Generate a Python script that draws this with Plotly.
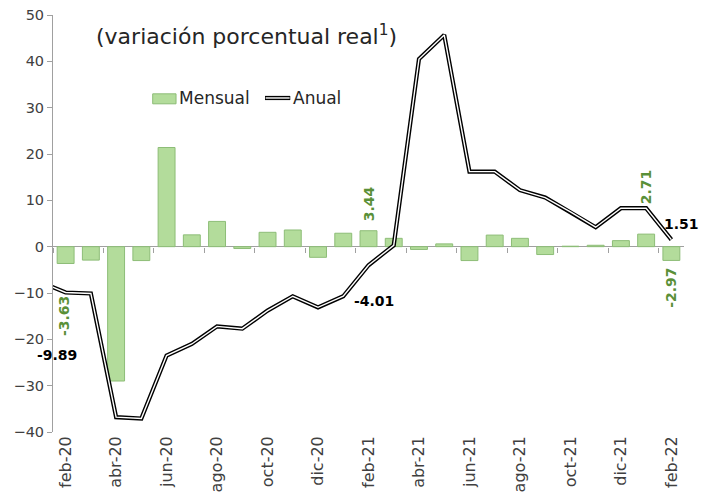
import plotly.graph_objects as go

months = ["ene-20", "feb-20", "mar-20", "abr-20", "may-20", "jun-20", "jul-20", "ago-20",
          "sep-20", "oct-20", "nov-20", "dic-20", "ene-21", "feb-21", "mar-21", "abr-21",
          "may-21", "jun-21", "jul-21", "ago-21", "sep-21", "oct-21", "nov-21", "dic-21",
          "ene-22", "feb-22"]
mensual = [None, -3.63, -2.9, -29.0, -3.0, 21.4, 2.55, 5.45, -0.4, 3.1, 3.6, -2.3, 2.9,
           3.44, 1.8, -0.6, 0.6, -3.0, 2.5, 1.8, -1.7, 0.1, 0.3, 1.3, 2.71, -2.97]
anual = [-7.6, -9.89, -10.1, -36.8, -37.1, -23.5, -21.0, -17.2, -17.7, -13.8, -10.7, -13.1,
         -10.7, -4.01, 0.3, 40.5, 45.7, 16.2, 16.2, 12.2, 10.6, 7.5, 4.2, 8.3, 8.3, 1.51]

title_text = "(variación porcentual real<sup>1</sup>)"
FONT = "DejaVu Sans"
GREEN_TXT = "#5a9038"
AXIS_C = "#a0a0a0"

# numeric positions: feb-20 -> 0 ; ene-20 sits just left of the plot (clipped)
xpos = [i - 1 for i in range(len(months))]
tick_idx = list(range(1, len(months), 2))
tickvals = [xpos[i] for i in tick_idx]
ticktext = [months[i] for i in tick_idx]
boundaries = [v - 0.5 for v in tickvals]

fig = go.Figure()
fig.add_trace(go.Bar(x=xpos, y=mensual, name="Mensual",
                     marker=dict(color="#b3dc9b", line=dict(color="#8dbd77", width=1)),
                     showlegend=False, hoverinfo="skip"))
fig.add_trace(go.Scatter(x=xpos, y=anual, mode="lines", name="Anual",
                         line=dict(color="black", width=4.2), showlegend=False))
fig.add_trace(go.Scatter(x=xpos, y=anual, mode="lines", name="Anual_in",
                         line=dict(color="white", width=1.4), showlegend=False, hoverinfo="skip"))
# helper trace for the tick-mark axis at y=0
fig.add_trace(go.Scatter(x=[tickvals[0]], y=[0], xaxis="x2", showlegend=False,
                         hoverinfo="skip", mode="markers", marker=dict(opacity=0)))

# page body has an 8px default margin, so the figure is sized/offset to compensate
fig.update_layout(
    width=700, height=489,
    margin=dict(l=45, r=24, t=7, b=65),
    paper_bgcolor="white", plot_bgcolor="white",
    bargap=0.33,
    font=dict(family=FONT, color="#404040"),
    xaxis=dict(range=[-0.5, 24.5], tickvals=tickvals, ticktext=ticktext, tickangle=-90,
               showline=False, showgrid=False, zeroline=False, ticks="", automargin=False,
               ticklabeloverflow="allow",
               tickfont=dict(size=16, color="#404040")),
    xaxis2=dict(overlaying="x", matches="x", anchor="free", position=40 / 90,
                showline=False, showgrid=False, zeroline=False, showticklabels=False,
                automargin=False,
                ticks="outside", tickvals=boundaries, ticklen=5, tickcolor=AXIS_C, tickwidth=1),
    yaxis=dict(range=[-40, 50], dtick=10, showgrid=False, showline=True, linecolor=AXIS_C,
               linewidth=1, ticks="outside", ticklen=5, tickcolor=AXIS_C, automargin=False,
               ticklabeloverflow="allow",
               zeroline=True, zerolinecolor=AXIS_C, zerolinewidth=1,
               tickfont=dict(size=14.5, color="#404040")),
)

# title
fig.add_annotation(text=title_text, xref="paper", yref="paper", x=0.3067, y=0.952,
                   xanchor="center", yanchor="middle",
                   showarrow=False, font=dict(size=22, color="#262626"))

# manual legend
fig.add_shape(type="rect", xref="paper", yref="paper", x0=0.158, x1=0.195, y0=0.787, y1=0.811,
              fillcolor="#b3dc9b", line=dict(color="#8dbd77", width=1))
fig.add_annotation(text="Mensual", xref="paper", yref="paper", x=0.197, y=0.801,
                   xanchor="left", yanchor="middle", showarrow=False,
                   font=dict(size=17, color="#262626"))
fig.add_shape(type="line", xref="paper", yref="paper", x0=0.336, x1=0.376, y0=0.801, y1=0.801,
              line=dict(color="black", width=4.2))
fig.add_shape(type="line", xref="paper", yref="paper", x0=0.337, x1=0.375, y0=0.801, y1=0.801,
              line=dict(color="white", width=1.4))
fig.add_annotation(text="Anual", xref="paper", yref="paper", x=0.377, y=0.801,
                   xanchor="left", yanchor="middle", showarrow=False,
                   font=dict(size=17, color="#262626"))

# data labels
def mlabel(i, dy, dx=0):
    fig.add_annotation(x=xpos[i], y=mensual[i], text=f"<b>{mensual[i]:.2f}</b>", showarrow=False,
                       textangle=-90, xshift=dx, yshift=dy, xanchor="center", yanchor="middle",
                       font=dict(size=14, color=GREEN_TXT))

def alabel(i, dy, dx=0):
    fig.add_annotation(x=xpos[i], y=anual[i], text=f"<b>{anual[i]:.2f}</b>", showarrow=False,
                       xshift=dx, yshift=dy, xanchor="center", yanchor="middle",
                       font=dict(size=14, color="black"))

mlabel(1, -53, -1)
mlabel(13, 27)
mlabel(24, 47)
mlabel(25, -27)
alabel(1, -63, -9)
alabel(13, -36, 5)
alabel(25, 16, 10)

fig.write_html("out.html")
